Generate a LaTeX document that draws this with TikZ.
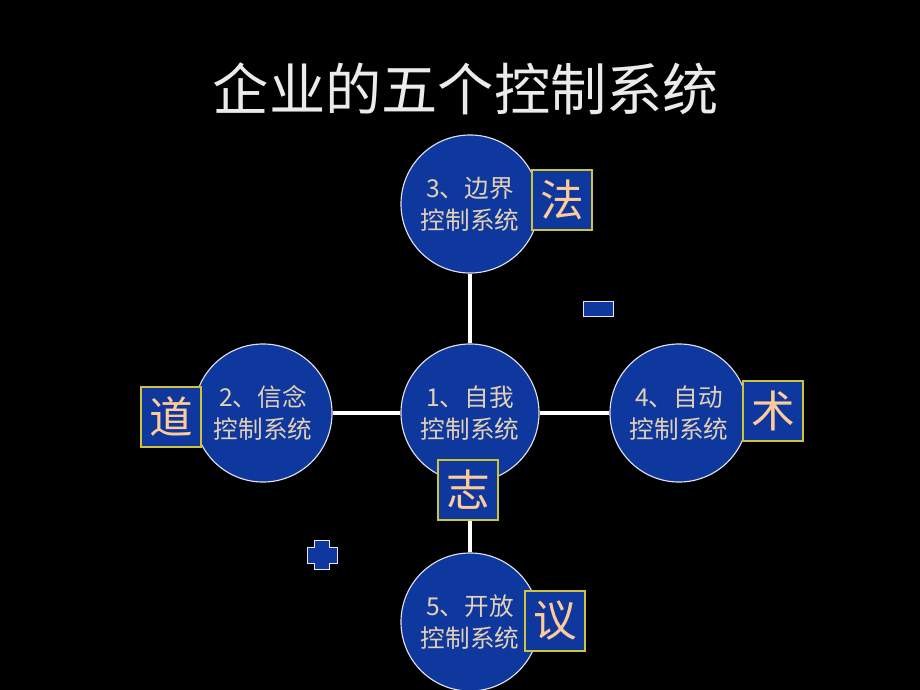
\documentclass[tikz,border=0pt]{standalone}
\usepackage{fontspec}
\usepackage{xcolor}
\newfontfamily\cjk{Noto Sans CJK SC}
\definecolor{dotblue}{RGB}{14,56,158}
\definecolor{peach}{RGB}{255,204,153}
\definecolor{boxyellow}{RGB}{205,195,60}
\definecolor{ballwhite}{RGB}{225,225,235}
\definecolor{ballbeige}{RGB}{228,208,180}

\tikzset{
  sysball/.style={circle, fill=dotblue, draw=ballwhite, line width=0.8pt,
    minimum size=3.45cm, inner sep=0pt, align=center, text=ballbeige,
    font=\cjk\fontsize{17.5}{22.5}\selectfont},
  wordbox/.style={rectangle, fill=dotblue, draw=boxyellow, line width=0.8pt,
    minimum size=1.5cm, inner sep=0pt, text=peach,
    font=\cjk\fontsize{31}{31}\selectfont},
  link/.style={white, line width=2.4pt}
}

\begin{document}
\begin{tikzpicture}[x=0.025cm, y=-0.025cm]
    \fill[black] (0,0) rectangle (920,690);
    \useasboundingbox (0,0) rectangle (920,690);

    \node[text=white!92!black, font=\cjk\fontsize{40}{40}\selectfont] (title) at (466,89) {企业的五个控制系统};

    % the five systems
    \node[sysball] (self) at (470,413) {1、自我\\控制系统};
    \node[sysball] (belief) at (263,413) {2、信念\\控制系统};
    \node[sysball] (bound) at (470,204) {3、边界\\控制系统};
    \node[sysball] (auto) at (679,413) {4、自动\\控制系统};
    \node[sysball] (open) at (470,622) {5、开放\\控制系统};

    \draw[link] (self) -- (bound);
    \draw[link] (self) -- (belief);
    \draw[link] (self) -- (auto);
    \draw[link] (self) -- (open);

    % the five words
    \node[wordbox] (fa) at (562,200) {法};
    \node[wordbox] (dao) at (171,417) {道};
    \node[wordbox] (shu) at (773,411) {术};
    \node[wordbox] (zhi) at (468,490) {志};
    \node[wordbox] (yi) at (555,621) {议};

    % minus and plus
    \filldraw[fill=dotblue, draw=ballwhite!80, line width=0.6pt] (583,301) rectangle (613,316);
    \filldraw[fill=dotblue, draw=ballwhite!80, line width=0.6pt]
      (314,540) -- (329,540) -- (329,547) -- (337,547) -- (337,563) -- (329,563)
      -- (329,569) -- (314,569) -- (314,563) -- (307,563) -- (307,547) -- (314,547) -- cycle;
\end{tikzpicture}
\end{document}
